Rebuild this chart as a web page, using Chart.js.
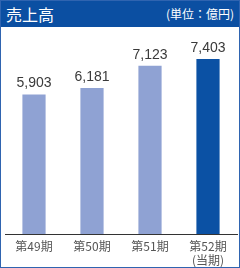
<!DOCTYPE html>
<html>
<head>
<meta charset="utf-8">
<script src="https://cdn.jsdelivr.net/npm/chart.js@4"></script>
<style>
  html, body { margin: 0; padding: 0; background: #fff; }
  .panel {
    position: relative;
    width: 240px;
    height: 268px;
    box-sizing: border-box;
    border: 1px solid #2f64b0;
    overflow: hidden;
  }
  .head {
    position: absolute;
    left: 0; top: 0; right: 0;
    height: 26px;
    background: #0b4fa2;
    color: #fff;
    font-family: "Noto Sans CJK JP", sans-serif;
  }
  .head .title { position: absolute; left: 5px; top: 2px; font-size: 16px; line-height: 22px; }
  .head .unit { position: absolute; right: 5px; top: 3px; font-size: 12px; line-height: 20px; }
  canvas { position: absolute; left: -1px; top: -1px; }
</style>
</head>
<body>
<div class="panel">
  <canvas id="chart" width="240" height="268"></canvas>
  <div class="head">
    <span class="title">売上高</span>
    <span class="unit">(単位：億円)</span>
  </div>
</div>
<script>
// values (億円)
const periods = [['第49期'], ['第50期'], ['第51期'], ['第52期', '(当期)']]
const sales = [5903, 6181, 7123, 7403]
const barColors = ['#8fa2d3', '#8fa2d3', '#8fa2d3', '#0b51a4']

// Draws the value above each bar
const valueLabels = {
  id: 'valueLabels',
  afterDatasetsDraw(chart) {
    const ctx = chart.ctx
    const meta = chart.getDatasetMeta(0)
    ctx.save()
    ctx.fillStyle = '#3a3a3a'
    ctx.textAlign = 'center'
    ctx.textBaseline = 'bottom'
    ctx.font = '14px "Liberation Sans", sans-serif'
    meta.data.forEach((bar, i) => {
      ctx.fillText(sales[i].toLocaleString('en-US'), bar.x, bar.y - 4)
    })
    ctx.restore()
  }
}

new Chart(document.getElementById('chart').getContext('2d'), {
  type: 'bar',
  data: {
    labels: periods,
    datasets: [{
      data: sales,
      backgroundColor: barColors,
      borderWidth: 0,
      barPercentage: 0.4,
      categoryPercentage: 1
    }]
  },
  options: {
    responsive: false,
    animation: false,
    layout: { padding: { left: 5, right: 3, top: 45, bottom: 0 } },
    plugins: {
      legend: { display: false },
      tooltip: { enabled: false }
    },
    scales: {
      y: {
        display: false,
        min: 0,
        max: 8000
      },
      x: {
        grid: { display: false, drawTicks: false },
        border: { display: true, color: '#333', width: 1 },
        ticks: {
          color: '#555',
          padding: 5,
          font: { family: '"Noto Sans CJK JP", sans-serif', size: 12, lineHeight: 1.2 }
        },
        afterFit(scale) { scale.height = 34 }
      }
    }
  },
  plugins: [valueLabels]
})
</script>
</body>
</html>
